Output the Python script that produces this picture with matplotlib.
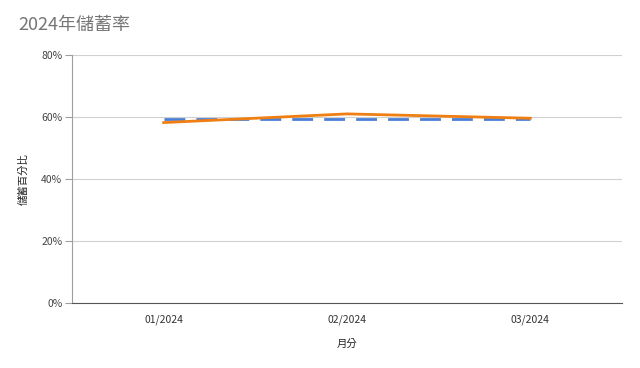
import matplotlib
matplotlib.use("Agg")
import matplotlib.pyplot as plt
from matplotlib.ticker import PercentFormatter

plt.rcParams['font.family'] = ['Noto Sans CJK TC', 'DejaVu Sans']

months = ["01/2024", "02/2024", "03/2024"]
savings_rate = [58.2, 61.0, 59.6]
target_rate = [59.5, 59.5, 59.5]

fig = plt.figure(figsize=(6.4, 3.68), dpi=100)
ax = fig.add_axes([72/640, 1-303/368, 550/640, 248/368])

x = list(range(len(months)))
ax.plot(x, target_rate, color="#4a7fd6", lw=2, dashes=(7.5, 4), zorder=3)
ax.plot(x, savings_rate, color="#f07f13", lw=2, zorder=4)

ax.set_xlim(-0.5, 2.5)
ax.set_ylim(0, 80)
ax.set_yticks([0, 20, 40, 60, 80])
ax.yaxis.set_major_formatter(PercentFormatter(decimals=0))
ax.set_xticks(x)
ax.set_xticklabels(months)
ax.grid(axis='y', color="#d0d0d0", lw=0.8)
ax.set_axisbelow(True)
for s in ["top", "right"]:
    ax.spines[s].set_visible(False)
ax.spines["left"].set_color("#9e9e9e")
ax.spines["bottom"].set_color("#555555")
ax.tick_params(axis='y', length=5, color="#9e9e9e", labelsize=7.5, labelcolor="#444444", pad=2)
ax.tick_params(axis='x', length=0, labelsize=7.5, labelcolor="#333333", pad=8)
ax.set_xlabel("月分", fontsize=7.5, color="#222222", labelpad=10)
ax.set_ylabel("儲蓄百分比", fontsize=7.5, color="#222222", labelpad=9)

fig.text(18/640, 1-25/368, "2024年儲蓄率", fontsize=13, color="#757575", va="center", ha="left")

fig.savefig("out.png", dpi=100)
